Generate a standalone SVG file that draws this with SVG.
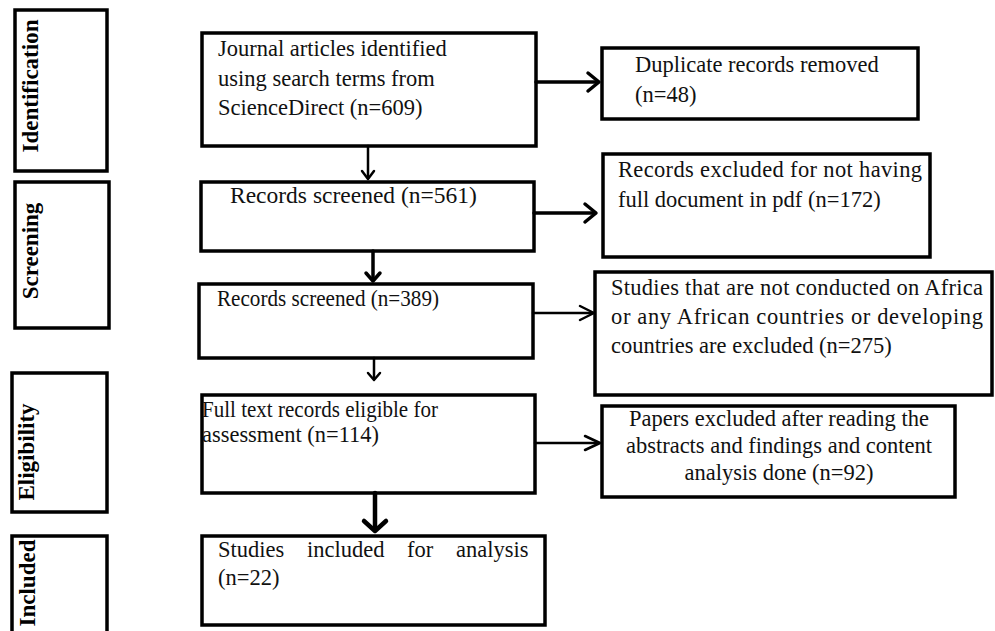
<svg xmlns="http://www.w3.org/2000/svg" width="995" height="631" viewBox="0 0 995 631">
<style>
.box{fill:#fff;stroke:#000;stroke-width:3.5}
.t{font-family:"Liberation Serif","Times New Roman",serif;font-size:22.5px;fill:#111}
.side{font-family:"Liberation Serif","Times New Roman",serif;font-size:23px;font-weight:bold;fill:#000;text-anchor:middle}
.c{fill:none;stroke:#000;stroke-linecap:round}
.thick{stroke-width:3.5}
.thin{stroke-width:2.5}
.head{fill:none;stroke:#000;stroke-linecap:round;stroke-linejoin:round}
</style>
<rect width="995" height="631" fill="#fff"/>
<g id="stage-identification">
<rect class="box" x="15" y="10" width="92" height="161"/>
<text class="side" transform="translate(38,86) rotate(-90)">Identification</text>
</g>
<g id="stage-screening">
<rect class="box" x="15" y="182" width="94" height="146"/>
<text class="side" transform="translate(38,251) rotate(-90)">Screening</text>
</g>
<g id="stage-eligibility">
<rect class="box" x="12" y="373" width="95" height="139"/>
<text class="side" transform="translate(34,452) rotate(-90)">Eligibility</text>
</g>
<g id="stage-included">
<rect class="box" x="12" y="536" width="95" height="100"/>
<text class="side" transform="translate(35,583) rotate(-90)">Included</text>
</g>
<g id="n-identified">
<rect class="box" x="202" y="33" width="334" height="113"/>
<text class="t" x="218" y="56">Journal articles identified</text>
<text class="t" x="218" y="86">using search terms from</text>
<text class="t" x="218" y="115">ScienceDirect (n=609)</text>
</g>
<g id="n-duplicates">
<rect class="box" x="602" y="48" width="316" height="71"/>
<text class="t" x="635" y="72">Duplicate records removed</text>
<text class="t" x="635" y="102">(n=48)</text>
</g>
<g id="n-screened561">
<rect class="box" x="201" y="182" width="333" height="69"/>
<text class="t" x="230" y="203" style="font-size:23.5px">Records screened (n=561)</text>
</g>
<g id="n-nopdf">
<rect class="box" x="603" y="154" width="327" height="103"/>
<text class="t" x="618" y="177" textLength="304" lengthAdjust="spacing">Records excluded for not having</text>
<text class="t" x="618" y="207">full document in pdf (n=172)</text>
</g>
<g id="n-screened389">
<rect class="box" x="199" y="284" width="334" height="74"/>
<text class="t" x="217" y="306" textLength="222" lengthAdjust="spacingAndGlyphs">Records screened (n=389)</text>
</g>
<g id="n-notafrica">
<rect class="box" x="595" y="272" width="397" height="123"/>
<text class="t" x="611" y="295" textLength="372" lengthAdjust="spacing">Studies that are not conducted on Africa</text>
<text class="t" x="611" y="324" textLength="372" lengthAdjust="spacing">or any African countries or developing</text>
<text class="t" x="611" y="353">countries are excluded (n=275)</text>
</g>
<g id="n-fulltext">
<rect class="box" x="202" y="395" width="333" height="98"/>
<text class="t" x="202" y="417" textLength="236" lengthAdjust="spacingAndGlyphs">Full text records eligible for</text>
<text class="t" x="202" y="442" textLength="177" lengthAdjust="spacingAndGlyphs">assessment (n=114)</text>
</g>
<g id="n-papers">
<rect class="box" x="602" y="406" width="353" height="91"/>
<text class="t" x="779" y="426" text-anchor="middle">Papers excluded after reading the</text>
<text class="t" x="779" y="453" text-anchor="middle">abstracts and findings and content</text>
<text class="t" x="779" y="480" text-anchor="middle">analysis done (n=92)</text>
</g>
<g id="n-included">
<rect class="box" x="202" y="536" width="343" height="89"/>
<text class="t" x="218" y="557">Studies</text>
<text class="t" x="307" y="557">included</text>
<text class="t" x="407" y="557">for</text>
<text class="t" x="456" y="557">analysis</text>
<text class="t" x="218" y="585">(n=22)</text>
</g>
<g id="connectors">
<path class="c thick" d="M536,82 H598"/>
<path class="head thick" d="M588,73 L599,82 L588,91"/>
<path class="c thick" d="M534,213 H595"/>
<path class="head thick" d="M585,204 L596,213 L585,222"/>
<path class="c thin" d="M533,313 H592"/>
<path class="head thin" d="M580,306 L594,313 L580,320"/>
<path class="c thin" d="M535,443 H598"/>
<path class="head thin" d="M585,436 L600,443 L585,450"/>
<path class="c thin" d="M368,146 V178"/>
<path class="head thin" d="M362,171 L368,179 L374,171"/>
<path class="c thick" d="M373,251 V280"/>
<path class="head thick" d="M366,273 L373,281 L380,273"/>
<path class="c thin" d="M374,358 V379"/>
<path class="head thin" d="M368,373 L374,380 L380,373"/>
<path class="c" style="stroke-width:4.5" d="M375,493 V530"/>
<path class="head" style="stroke-width:4.5" d="M364,521 L375,531 L386,521"/>
</g>
</svg>
